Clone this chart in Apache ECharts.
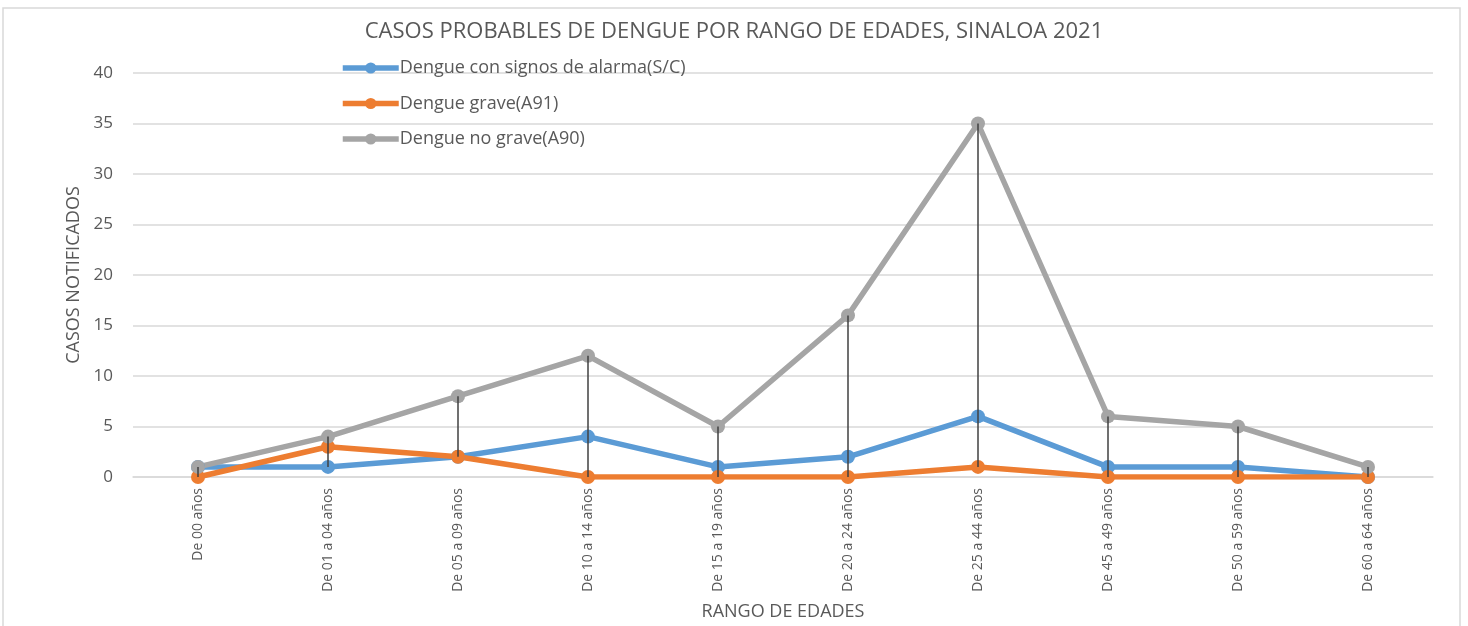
<!DOCTYPE html>
<html>
<head>
<meta charset="utf-8">
<script src="https://cdn.jsdelivr.net/npm/echarts@6/dist/echarts.min.js"></script>
<style>
html,body{margin:0;padding:0;background:#fff;}
#chart{width:1468px;height:626px;}
</style>
</head>
<body>
<div id="chart"></div>
<script>
const categories = ["De 00 años","De 01 a 04 años","De 05 a 09 años","De 10 a 14 años","De 15 a 19 años","De 20 a 24 años","De 25 a 44 años","De 45 a 49 años","De 50 a 59 años","De 60 a 64 años"];
const conSignos = [1,1,2,4,1,2,6,1,1,0];
const grave = [0,3,2,0,0,0,1,0,0,0];
const noGrave = [1,4,8,12,5,16,35,6,5,1];
const seriesNames = ["Dengue con signos de alarma(S/C)","Dengue grave(A91)","Dengue no grave(A90)"];
const yTicks = [0,5,10,15,20,25,30,35,40];

const FONT = '"Open Sans", "Noto Sans", sans-serif';
const TXT = '#595959';

const hiLo = categories.map((c,i)=>{
  const v=[conSignos[i],grave[i],noGrave[i]];
  return [i, Math.min.apply(null,v), Math.max.apply(null,v)];
});

const chart = echarts.init(document.getElementById('chart'), null, {renderer:'canvas'});
function lineSeries(name, data, color){
  return {
    name, type:'line', data, color,
    symbol:'circle', symbolSize:14,
    lineStyle:{width:5.5,color},
    itemStyle:{color},
    z:2
  };
}
chart.setOption({
  animation:false,
  backgroundColor:'#fff',
  textStyle:{fontFamily:FONT},
  graphic:[{type:'rect',shape:{x:3,y:8,width:1457,height:640},style:{fill:'none',stroke:'#d9d9d9',lineWidth:1.5},silent:true,z:-1}],
  title:{
    text:'CASOS PROBABLES DE DENGUE POR RANGO DE EDADES, SINALOA 2021',
    left:'center', top:16,
    textStyle:{fontFamily:FONT,fontSize:22,fontWeight:'normal',color:TXT}
  },
  legend:{
    data:seriesNames,
    orient:'vertical', left:335, top:54,
    itemWidth:56, itemHeight:14, itemGap:17.5,
    lineStyle:{width:5.5},
    textStyle:{fontFamily:FONT,fontSize:18,color:TXT,padding:[0,0,0,-4]}
  },
  grid:{left:133,right:35,top:73,bottom:148,containLabel:false},
  xAxis:{
    type:'category', data:categories, boundaryGap:true,
    name:'RANGO DE EDADES', nameLocation:'middle', nameGap:126,
    nameTextStyle:{fontFamily:FONT,fontSize:18,color:TXT},
    axisLine:{show:true,lineStyle:{color:'#d9d9d9',width:1.5}},
    axisTick:{show:false},
    axisLabel:{rotate:90,interval:0,fontFamily:FONT,fontSize:14,color:TXT,margin:11}
  },
  yAxis:{
    type:'value', min:0, max:40, interval:5,
    name:'CASOS NOTIFICADOS', nameLocation:'middle', nameGap:50, nameRotate:90,
    nameTextStyle:{fontFamily:FONT,fontSize:18,color:TXT},
    axisLine:{show:false}, axisTick:{show:false},
    axisLabel:{fontFamily:FONT,fontSize:17,color:TXT,margin:20,
      formatter:v=>yTicks.indexOf(v)>=0?String(v):''},
    splitLine:{lineStyle:{color:'#d9d9d9',width:1.5}}
  },
  series:[
    lineSeries(seriesNames[0], conSignos, '#5b9bd5'),
    lineSeries(seriesNames[1], grave, '#ed7d31'),
    lineSeries(seriesNames[2], noGrave, '#a5a5a5'),
    {
      name:'hilo', type:'custom', data:hiLo, z:5, silent:true,
      encode:{x:0,y:[1,2]},
      renderItem:function(params, api){
        const lo = api.coord([api.value(0), api.value(1)]);
        const hi = api.coord([api.value(0), api.value(2)]);
        return {type:'line',shape:{x1:lo[0],y1:lo[1],x2:hi[0],y2:hi[1]},
          style:{stroke:'#404040',lineWidth:1.5}};
      }
    }
  ]
});
</script>
</body>
</html>
